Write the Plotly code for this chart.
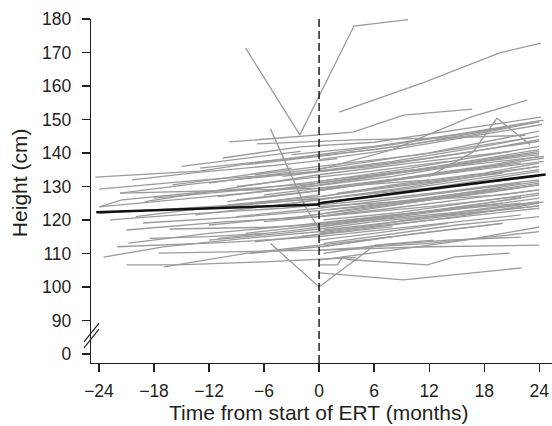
import plotly.graph_objects as go

# ---- data: individual height trajectories (months from ERT start, height cm) ----
patient_months = [
    [-8, -2.1, 3.8, 9.7],
    [2.2, 11.3, 19.7, 24.2],
    [-5.3, -1.5, 0.3],
    [-5.3, 0, 6.1, 12.5],
    [0, 9.2, 22.1],
    [0, 2, 2.6, 3.1, 11.8, 14.8, 20.8],
    [12, 16.8, 19.4, 23],
    [-9.8, 3.7, 9.2, 16.7],
    [-6.8, 4, 14, 22.5],
    [-10.5, -2.1, 6, 24.2],
    [0, 8, 16.5, 22.7],
    [-24.4, -13, -6, 0, 8, 20],
    [-24, -13, -3, 6, 16, 24],
    [-20.4, -13, -4, 2],
    [-21.7, -13, -2, 8, 18, 24],
    [-23.9, -21.5, -12, 0, 12, 24],
    [-21.7, -10, 0, 12],
    [-24, -16, -8, 0, 10, 24.5],
    [-22.8, -14, -4, 4, 14, 24],
    [-19.2, -8, 0, 10, 20],
    [-21, -10, 0, 8, 18, 24],
    [-16.3, -6, 2, 14, 24],
    [-20.8, -12, -2, 8, 20],
    [-22, -10, 0, 10, 22],
    [-23.5, -17, -8, 2, 14, 24],
    [-17.5, -10, 0, 12, 24],
    [-21, -15.5, -6, 4],
    [-16.9, -8, 0, 8],
    [-24, -12, 0, 12, 24],
    [-18, -8, 0, 12, 24],
    [-12, -4, 2, 12, 24],
    [-13, -3, 6, 16, 24],
    [-11, -1, 8, 20, 24],
    [-10, 0, 10, 20],
    [-9, 0, 12, 22],
    [-12, -2, 8, 18, 24],
    [-8, 0, 10, 22],
    [-11, -3, 6, 16, 24],
    [-7, 0, 8],
    [-6, 2, 12, 22],
    [-10, -2, 6, 18, 24.5],
    [-5, 0, 6, 14, 24],
    [-8, 0, 10, 24],
    [-4, 2, 12, 24],
    [-14, -6, 0],
    [-7.5, 0, 8, 20],
    [-12, -4, 0, 6, 16, 24],
    [0, 8, 16, 24],
    [0.3, 10, 20],
    [0, 12, 24.5],
    [0.5, 6, 14, 22],
    [0, 10, 22],
    [0, 12, 24],
    [0.2, 8, 18, 24],
    [0, 10, 24],
    [0, 12, 24],
    [0, 6, 14],
    [1, 10, 18, 24],
    [0, 12, 22],
    [0, 8, 20, 24.3],
    [0, 10, 21],
    [0.5, 12, 24],
    [0, 20, 24],
    [0, 12, 24],
    [0.5, 8, 16, 24],
    [-15, -8, -2],
    [-19, -12, -5, 0],
    [-16, -9, -3],
    [-13.5, -6, 0, 9, 18, 24],
    [-9, -1, 10, 24.5],
    [-3, 3, 12, 24],
    [-6, 0, 9, 19, 24],
    [-2, 5, 15, 24],
    [-9, -3, 4, 14],
    [0, 9, 17, 24],
    [-4, 1, 10, 20, 24],
    [-7, 0, 11, 23],
    [0.5, 7, 15, 24],
    [-20, -14, -7, 0],
    [-18.5, -12, -6],
    [2, 12, 24],
    [-3, 6, 16, 24.5],
]
patient_heights = [
    [171.3, 145.4, 177.9, 179.8],
    [152.2, 160.9, 169.9, 172.8],
    [147.2, 124, 116],
    [113, 100, 112.5, 114],
    [104.2, 102.1, 105.7],
    [106.6, 106.6, 109, 108.2, 106.6, 109, 110.1],
    [133, 140.3, 150.4, 142.5],
    [143.3, 146.2, 151.3, 153.1],
    [142.7, 143.9, 144.5, 145.3],
    [138.5, 141.8, 143.2, 150.7],
    [135, 141, 150.7, 155.8],
    [132.8, 134.6, 137.5, 139.5, 142.5, 147.5],
    [129.2, 131.9, 133.8, 136, 140, 144],
    [132, 134.3, 136.5, 138.3],
    [128, 131, 134, 137.5, 142, 145],
    [124, 126, 128.5, 131, 135.5, 140.5],
    [128, 128.8, 129.5, 132],
    [123.9, 126, 128, 130.5, 134.5, 139],
    [120, 121.8, 123.5, 125.5, 128.5, 132],
    [119.1, 121, 122.8, 126, 129.5],
    [117, 119.5, 121, 123.5, 127, 129],
    [117.3, 117.8, 119, 122, 125.5],
    [113.1, 116, 118.5, 121.5, 125],
    [112, 113.3, 115, 118, 121.5],
    [108.9, 112, 114.5, 117, 120.5, 123.5],
    [110.1, 110.4, 111, 113, 116.5],
    [106.6, 106.6, 107.5, 108.8],
    [106, 110, 112.5, 115],
    [122, 124, 126.3, 129.5, 133],
    [126.5, 129, 131.5, 135.5, 139.5],
    [131, 134, 136, 140, 146.5],
    [135.5, 138.5, 141, 145, 149.3],
    [127, 130, 133, 138.5, 140],
    [124.5, 127, 130.5, 134],
    [121, 123.5, 127.5, 131],
    [118.5, 121, 124.5, 128, 130.5],
    [116, 118.5, 122, 126.5],
    [114.5, 116.8, 120, 123.5, 126.5],
    [113.5, 115.5, 118],
    [119.5, 121.5, 124, 127],
    [125.5, 128, 131, 136, 138.5],
    [129, 131, 133, 136.5, 141],
    [136.5, 139, 142.5, 149.5],
    [133, 135, 138.5, 143.5],
    [123, 125, 126.5],
    [110, 112, 115, 119],
    [114, 116, 117.3, 119.5, 122, 124.2],
    [108, 111, 114, 117.9],
    [112, 115.8, 119],
    [116, 121, 125.4],
    [110, 112.3, 114, 114.9],
    [119, 122, 125],
    [121, 126, 130.5],
    [127, 130.5, 134, 137],
    [131.5, 135.5, 142],
    [125, 129.5, 134.5],
    [114, 116, 119],
    [123, 125.5, 128.5, 131],
    [129, 133.5, 137],
    [138, 141, 146.5, 148.5],
    [133.5, 137, 140.5],
    [117, 120.5, 124.2],
    [124, 127.5, 129],
    [111, 112, 112.5],
    [120, 122, 125, 128],
    [136, 138.5, 140.5],
    [125.5, 128.5, 131.5, 133.5],
    [130.5, 133, 135.5],
    [121.5, 124, 126, 129.5, 133.5, 136],
    [126, 128.5, 132.5, 137.5],
    [120.5, 123, 126.5, 131.5],
    [127.5, 129.5, 132.5, 136.5, 139],
    [115, 117.5, 121, 125],
    [130, 132, 134, 137.5],
    [118, 121.5, 124.5, 127.5],
    [124.5, 126.5, 129.5, 133.5, 135],
    [133.5, 136, 139.5, 144.5],
    [113, 115.5, 118.5, 121],
    [121, 123, 125, 127.5],
    [114.5, 115, 116],
    [128, 131.5, 136],
    [139.5, 142, 146, 149.8],
]

mean_months = [-24.3, -0.2, 0.2, 24.7]
mean_heights = [122.3, 124.6, 125.1, 133.6]

# y axis has a break: "0" is drawn one step below 90
y_tick_vals = [80, 90, 100, 110, 120, 130, 140, 150, 160, 170, 180]
y_tick_text = ["0", "90", "100", "110", "120", "130", "140", "150", "160", "170", "180"]
x_tick_vals = [-24, -18, -12, -6, 0, 6, 12, 18, 24]
x_tick_text = ["\u221224", "\u221218", "\u221212", "\u22126", "0", "6", "12", "18", "24"]

FONT = "Liberation Sans, Arial, Helvetica, sans-serif"
TXT = "#231f20"
W, H = 552, 426
ML, MR, MT, MB = 91, 0, 19, 63
TICK_SIZE = 17.5
TITLE_SIZE = 21

fig = go.Figure()
for m, h in zip(patient_months, patient_heights):
    fig.add_trace(go.Scatter(x=m, y=h, mode="lines",
                             line=dict(color="rgb(155,155,155)", width=1.3),
                             hoverinfo="skip", showlegend=False))
fig.add_trace(go.Scatter(x=mean_months, y=mean_heights, mode="lines",
                         line=dict(color="#111111", width=2.6),
                         hoverinfo="skip", showlegend=False))

# dashed reference line at ERT start
fig.add_shape(type="line", xref="x", yref="paper", x0=0, x1=0, y0=0, y1=1,
              line=dict(color="#000000", width=1.3, dash="8px,4px"), layer="above")

# axis break marks
plot_w = W - ML - MR
for dy in (0.0, 1.8):
    fig.add_shape(type="line", xref="paper", yref="y",
                  x0=-7 / plot_w, x1=8 / plot_w,
                  y0=81.8 + dy, y1=87.4 + dy,
                  line=dict(color=TXT, width=1.2), layer="above")

# axis titles as annotations (fixed positions)
fig.add_annotation(text="Height (cm)", xref="paper", yref="y",
                   x=-(ML - 19) / plot_w, y=131, textangle=-90, showarrow=False,
                   font=dict(size=TITLE_SIZE, color=TXT, family=FONT),
                   xanchor="center", yanchor="middle")
plot_h = H - MT - MB
fig.add_annotation(text="Time from start of ERT (months)", xref="x", yref="paper",
                   x=0, y=-(412 - (H - MB)) / plot_h, showarrow=False,
                   font=dict(size=TITLE_SIZE, color=TXT, family=FONT),
                   xanchor="center", yanchor="middle")

fig.update_layout(
    width=W, height=H,
    margin=dict(l=ML, r=MR, t=MT, b=MB, autoexpand=False),
    plot_bgcolor="white", paper_bgcolor="white",
    font=dict(family=FONT, size=TICK_SIZE, color=TXT),
    showlegend=False,
)
fig.update_xaxes(
    range=[-24.87, 25.4], tickvals=x_tick_vals, ticktext=x_tick_text,
    ticks="outside", ticklen=8, tickwidth=1.2, tickcolor=TXT,
    showline=True, linecolor=TXT, linewidth=1.2, showgrid=False, zeroline=False,
    tickfont=dict(size=TICK_SIZE), automargin=False, ticklabelstandoff=4,
)
fig.update_yaxes(
    range=[77.3, 180], tickvals=y_tick_vals, ticktext=y_tick_text,
    ticks="outside", ticklen=8, tickwidth=1.2, tickcolor=TXT,
    showline=True, linecolor=TXT, linewidth=1.2, showgrid=False, zeroline=False,
    tickfont=dict(size=TICK_SIZE), automargin=False, ticklabelstandoff=7,
)

fig.write_html("out.html",
               config={"displayModeBar": False, "staticPlot": True},
               post_script="document.body.style.margin='0';document.body.style.overflow='hidden';")
